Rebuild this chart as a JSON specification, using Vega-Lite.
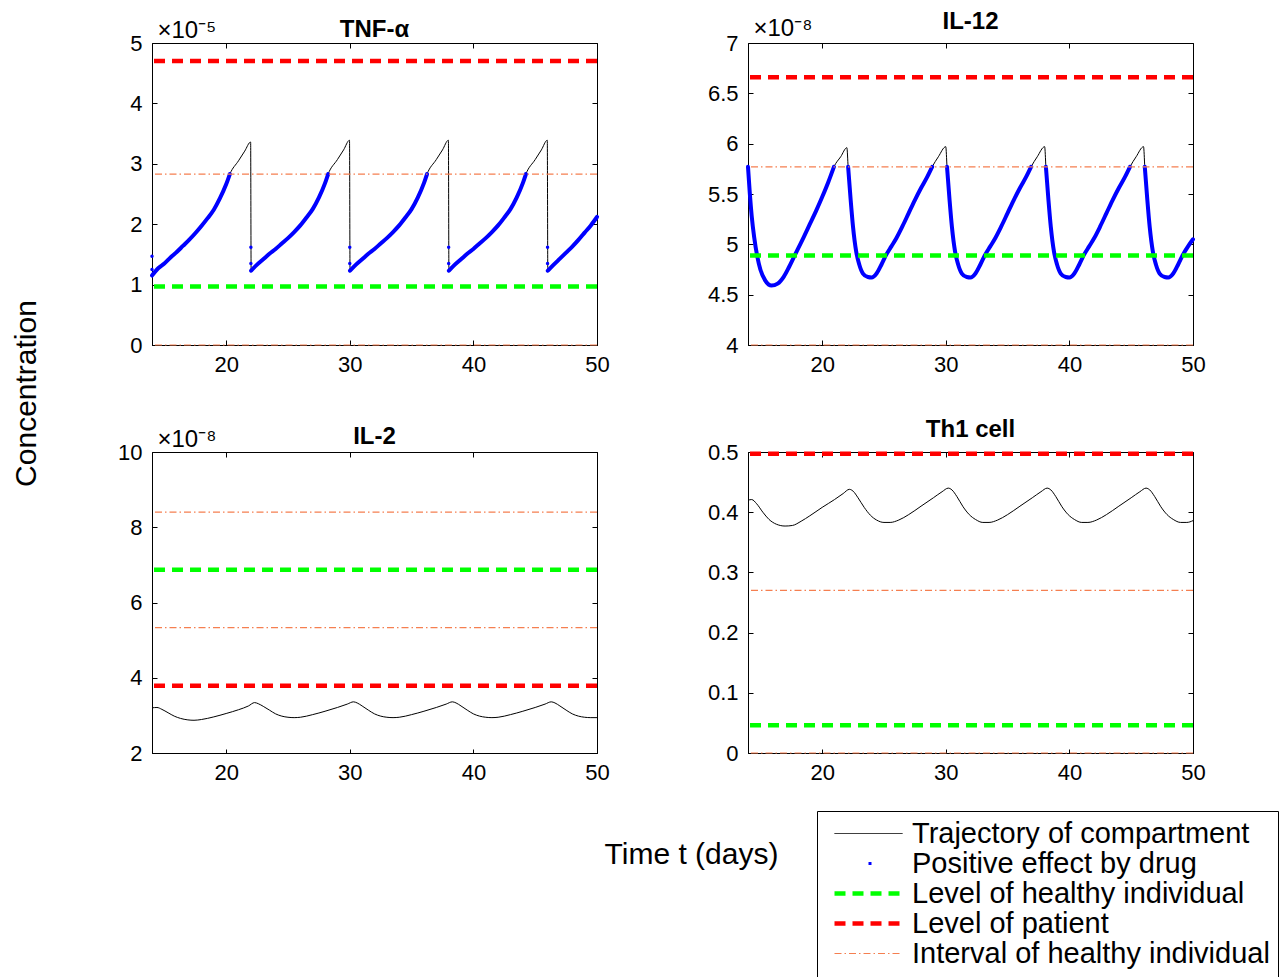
{
"$schema": "https://vega.github.io/schema/vega-lite/v6.json",
"autosize": {"type": "none"},
"padding": {"left": 152, "top": 43, "right": 1134, "bottom": 934},
"background": "white",
"datasets": {
"traj": [
{"p":"TNF","t":14,"v":1.15e-5,"s":1},{"p":"TNF","t":14.5,"v":1.27e-5,"s":1},{"p":"TNF","t":15,"v":1.35e-5,"s":1},{"p":"TNF","t":15.5,"v":1.45e-5,"s":1},{"p":"TNF","t":16,"v":1.54e-5,"s":1},{"p":"TNF","t":16.5,"v":1.64e-5,"s":1},{"p":"TNF","t":17,"v":1.74e-5,"s":1},{"p":"TNF","t":17.5,"v":1.85e-5,"s":1},{"p":"TNF","t":18,"v":1.97e-5,"s":1},{"p":"TNF","t":18.5,"v":2.1e-5,"s":1},{"p":"TNF","t":19,"v":2.24e-5,"s":1},{"p":"TNF","t":19.5,"v":2.43e-5,"s":1},{"p":"TNF","t":20,"v":2.66e-5,"s":1},{"p":"TNF","t":20.3,"v":2.83e-5,"s":1},{"p":"TNF","t":21,"v":3.05e-5},{"p":"TNF","t":21.5,"v":3.21e-5},{"p":"TNF","t":21.98,"v":3.36e-5},
{"p":"TNF","t":22.02,"v":1.23e-5,"s":2},{"p":"TNF","t":22.5,"v":1.33e-5,"s":2},{"p":"TNF","t":23,"v":1.42e-5,"s":2},{"p":"TNF","t":23.5,"v":1.51e-5,"s":2},{"p":"TNF","t":24,"v":1.59e-5,"s":2},{"p":"TNF","t":24.5,"v":1.68e-5,"s":2},{"p":"TNF","t":25,"v":1.77e-5,"s":2},{"p":"TNF","t":25.5,"v":1.87e-5,"s":2},{"p":"TNF","t":26,"v":1.98e-5,"s":2},{"p":"TNF","t":26.5,"v":2.11e-5,"s":2},{"p":"TNF","t":27,"v":2.25e-5,"s":2},{"p":"TNF","t":27.5,"v":2.44e-5,"s":2},{"p":"TNF","t":28,"v":2.68e-5,"s":2},{"p":"TNF","t":28.25,"v":2.83e-5,"s":2},{"p":"TNF","t":29,"v":3.07e-5},{"p":"TNF","t":29.5,"v":3.23e-5},{"p":"TNF","t":29.98,"v":3.39e-5},
{"p":"TNF","t":30.02,"v":1.23e-5,"s":3},{"p":"TNF","t":30.5,"v":1.33e-5,"s":3},{"p":"TNF","t":31,"v":1.42e-5,"s":3},{"p":"TNF","t":31.5,"v":1.51e-5,"s":3},{"p":"TNF","t":32,"v":1.59e-5,"s":3},{"p":"TNF","t":32.5,"v":1.68e-5,"s":3},{"p":"TNF","t":33,"v":1.77e-5,"s":3},{"p":"TNF","t":33.5,"v":1.87e-5,"s":3},{"p":"TNF","t":34,"v":1.98e-5,"s":3},{"p":"TNF","t":34.5,"v":2.11e-5,"s":3},{"p":"TNF","t":35,"v":2.25e-5,"s":3},{"p":"TNF","t":35.5,"v":2.44e-5,"s":3},{"p":"TNF","t":36,"v":2.68e-5,"s":3},{"p":"TNF","t":36.25,"v":2.83e-5,"s":3},{"p":"TNF","t":37,"v":3.07e-5},{"p":"TNF","t":37.5,"v":3.23e-5},{"p":"TNF","t":37.98,"v":3.39e-5},
{"p":"TNF","t":38.02,"v":1.23e-5,"s":4},{"p":"TNF","t":38.5,"v":1.33e-5,"s":4},{"p":"TNF","t":39,"v":1.42e-5,"s":4},{"p":"TNF","t":39.5,"v":1.51e-5,"s":4},{"p":"TNF","t":40,"v":1.59e-5,"s":4},{"p":"TNF","t":40.5,"v":1.68e-5,"s":4},{"p":"TNF","t":41,"v":1.77e-5,"s":4},{"p":"TNF","t":41.5,"v":1.87e-5,"s":4},{"p":"TNF","t":42,"v":1.98e-5,"s":4},{"p":"TNF","t":42.5,"v":2.11e-5,"s":4},{"p":"TNF","t":43,"v":2.25e-5,"s":4},{"p":"TNF","t":43.5,"v":2.44e-5,"s":4},{"p":"TNF","t":44,"v":2.68e-5,"s":4},{"p":"TNF","t":44.25,"v":2.83e-5,"s":4},{"p":"TNF","t":45,"v":3.07e-5},{"p":"TNF","t":45.5,"v":3.23e-5},{"p":"TNF","t":45.98,"v":3.39e-5},
{"p":"TNF","t":46.02,"v":1.23e-5,"s":5},{"p":"TNF","t":46.5,"v":1.33e-5,"s":5},{"p":"TNF","t":47,"v":1.43e-5,"s":5},{"p":"TNF","t":47.5,"v":1.53e-5,"s":5},{"p":"TNF","t":48,"v":1.63e-5,"s":5},{"p":"TNF","t":48.5,"v":1.74e-5,"s":5},{"p":"TNF","t":49,"v":1.86e-5,"s":5},{"p":"TNF","t":49.5,"v":1.98e-5,"s":5},{"p":"TNF","t":50,"v":2.12e-5,"s":5},
{"p":"IL12","t":14,"v":5.77e-8,"s":1},{"p":"IL12","t":14.15,"v":5.5e-8,"s":1},{"p":"IL12","t":14.3,"v":5.28e-8,"s":1},{"p":"IL12","t":14.5,"v":5.07e-8,"s":1},{"p":"IL12","t":14.75,"v":4.88e-8,"s":1},{"p":"IL12","t":15,"v":4.75e-8,"s":1},{"p":"IL12","t":15.4,"v":4.64e-8,"s":1},{"p":"IL12","t":15.9,"v":4.59e-8,"s":1},{"p":"IL12","t":16.4,"v":4.61e-8,"s":1},{"p":"IL12","t":16.9,"v":4.68e-8,"s":1},{"p":"IL12","t":17.3,"v":4.77e-8,"s":1},{"p":"IL12","t":17.7,"v":4.87e-8,"s":1},{"p":"IL12","t":18.1,"v":4.97e-8,"s":1},{"p":"IL12","t":18.5,"v":5.07e-8,"s":1},{"p":"IL12","t":19,"v":5.2e-8,"s":1},{"p":"IL12","t":19.5,"v":5.33e-8,"s":1},{"p":"IL12","t":20,"v":5.47e-8,"s":1},{"p":"IL12","t":20.5,"v":5.62e-8,"s":1},{"p":"IL12","t":20.95,"v":5.77e-8,"s":1},{"p":"IL12","t":21.5,"v":5.87e-8},{"p":"IL12","t":22,"v":5.96e-8},
{"p":"IL12","t":22.1,"v":5.77e-8,"s":2},{"p":"IL12","t":22.3,"v":5.45e-8,"s":2},{"p":"IL12","t":22.5,"v":5.17e-8,"s":2},{"p":"IL12","t":22.75,"v":4.93e-8,"s":2},{"p":"IL12","t":23,"v":4.8e-8,"s":2},{"p":"IL12","t":23.3,"v":4.71e-8,"s":2},{"p":"IL12","t":23.7,"v":4.675e-8,"s":2},{"p":"IL12","t":24,"v":4.67e-8,"s":2},{"p":"IL12","t":24.4,"v":4.71e-8,"s":2},{"p":"IL12","t":24.8,"v":4.8e-8,"s":2},{"p":"IL12","t":25.2,"v":4.9e-8,"s":2},{"p":"IL12","t":25.6,"v":4.98e-8,"s":2},{"p":"IL12","t":26,"v":5.06e-8,"s":2},{"p":"IL12","t":26.5,"v":5.18e-8,"s":2},{"p":"IL12","t":27,"v":5.31e-8,"s":2},{"p":"IL12","t":27.5,"v":5.44e-8,"s":2},{"p":"IL12","t":28,"v":5.56e-8,"s":2},{"p":"IL12","t":28.5,"v":5.67e-8,"s":2},{"p":"IL12","t":28.9,"v":5.77e-8,"s":2},{"p":"IL12","t":29.4,"v":5.87e-8},{"p":"IL12","t":30,"v":5.97e-8},
{"p":"IL12","t":30.1,"v":5.77e-8,"s":3},{"p":"IL12","t":30.3,"v":5.45e-8,"s":3},{"p":"IL12","t":30.5,"v":5.17e-8,"s":3},{"p":"IL12","t":30.75,"v":4.93e-8,"s":3},{"p":"IL12","t":31,"v":4.8e-8,"s":3},{"p":"IL12","t":31.3,"v":4.71e-8,"s":3},{"p":"IL12","t":31.7,"v":4.675e-8,"s":3},{"p":"IL12","t":32,"v":4.67e-8,"s":3},{"p":"IL12","t":32.4,"v":4.71e-8,"s":3},{"p":"IL12","t":32.8,"v":4.8e-8,"s":3},{"p":"IL12","t":33.2,"v":4.9e-8,"s":3},{"p":"IL12","t":33.6,"v":4.98e-8,"s":3},{"p":"IL12","t":34,"v":5.06e-8,"s":3},{"p":"IL12","t":34.5,"v":5.18e-8,"s":3},{"p":"IL12","t":35,"v":5.31e-8,"s":3},{"p":"IL12","t":35.5,"v":5.44e-8,"s":3},{"p":"IL12","t":36,"v":5.56e-8,"s":3},{"p":"IL12","t":36.5,"v":5.67e-8,"s":3},{"p":"IL12","t":36.9,"v":5.77e-8,"s":3},{"p":"IL12","t":37.4,"v":5.87e-8},{"p":"IL12","t":38,"v":5.97e-8},
{"p":"IL12","t":38.1,"v":5.77e-8,"s":4},{"p":"IL12","t":38.3,"v":5.45e-8,"s":4},{"p":"IL12","t":38.5,"v":5.17e-8,"s":4},{"p":"IL12","t":38.75,"v":4.93e-8,"s":4},{"p":"IL12","t":39,"v":4.8e-8,"s":4},{"p":"IL12","t":39.3,"v":4.71e-8,"s":4},{"p":"IL12","t":39.7,"v":4.675e-8,"s":4},{"p":"IL12","t":40,"v":4.67e-8,"s":4},{"p":"IL12","t":40.4,"v":4.71e-8,"s":4},{"p":"IL12","t":40.8,"v":4.8e-8,"s":4},{"p":"IL12","t":41.2,"v":4.9e-8,"s":4},{"p":"IL12","t":41.6,"v":4.98e-8,"s":4},{"p":"IL12","t":42,"v":5.06e-8,"s":4},{"p":"IL12","t":42.5,"v":5.18e-8,"s":4},{"p":"IL12","t":43,"v":5.31e-8,"s":4},{"p":"IL12","t":43.5,"v":5.44e-8,"s":4},{"p":"IL12","t":44,"v":5.56e-8,"s":4},{"p":"IL12","t":44.5,"v":5.67e-8,"s":4},{"p":"IL12","t":44.9,"v":5.77e-8,"s":4},{"p":"IL12","t":45.4,"v":5.87e-8},{"p":"IL12","t":46,"v":5.97e-8},
{"p":"IL12","t":46.1,"v":5.77e-8,"s":5},{"p":"IL12","t":46.3,"v":5.45e-8,"s":5},{"p":"IL12","t":46.5,"v":5.17e-8,"s":5},{"p":"IL12","t":46.75,"v":4.93e-8,"s":5},{"p":"IL12","t":47,"v":4.8e-8,"s":5},{"p":"IL12","t":47.3,"v":4.71e-8,"s":5},{"p":"IL12","t":47.7,"v":4.675e-8,"s":5},{"p":"IL12","t":48,"v":4.67e-8,"s":5},{"p":"IL12","t":48.4,"v":4.71e-8,"s":5},{"p":"IL12","t":48.8,"v":4.8e-8,"s":5},{"p":"IL12","t":49.2,"v":4.9e-8,"s":5},{"p":"IL12","t":49.6,"v":4.98e-8,"s":5},{"p":"IL12","t":50,"v":5.05e-8,"s":5},
{"p":"IL2","t":14,"v":3.2e-8},{"p":"IL2","t":14.4,"v":3.21e-8},{"p":"IL2","t":14.8,"v":3.16e-8},{"p":"IL2","t":15.3,"v":3.07e-8},{"p":"IL2","t":15.8,"v":2.98e-8},{"p":"IL2","t":16.3,"v":2.92e-8},{"p":"IL2","t":16.9,"v":2.88e-8},{"p":"IL2","t":17.4,"v":2.87e-8},{"p":"IL2","t":18,"v":2.89e-8},{"p":"IL2","t":19,"v":2.96e-8},{"p":"IL2","t":20,"v":3.05e-8},{"p":"IL2","t":21,"v":3.15e-8},{"p":"IL2","t":21.8,"v":3.25e-8},{"p":"IL2","t":22.3,"v":3.34e-8},
{"p":"IL2","t":22.6,"v":3.31e-8},{"p":"IL2","t":23,"v":3.24e-8},{"p":"IL2","t":23.5,"v":3.14e-8},{"p":"IL2","t":24,"v":3.04e-8},{"p":"IL2","t":24.5,"v":2.98e-8},{"p":"IL2","t":25,"v":2.95e-8},{"p":"IL2","t":25.5,"v":2.94e-8},{"p":"IL2","t":26,"v":2.95e-8},{"p":"IL2","t":27,"v":3.02e-8},{"p":"IL2","t":28,"v":3.11e-8},{"p":"IL2","t":29,"v":3.21e-8},{"p":"IL2","t":29.8,"v":3.3e-8},{"p":"IL2","t":30.3,"v":3.36e-8},
{"p":"IL2","t":30.6,"v":3.33e-8},{"p":"IL2","t":31,"v":3.25e-8},{"p":"IL2","t":31.5,"v":3.14e-8},{"p":"IL2","t":32,"v":3.04e-8},{"p":"IL2","t":32.5,"v":2.98e-8},{"p":"IL2","t":33,"v":2.95e-8},{"p":"IL2","t":33.5,"v":2.94e-8},{"p":"IL2","t":34,"v":2.95e-8},{"p":"IL2","t":35,"v":3.02e-8},{"p":"IL2","t":36,"v":3.11e-8},{"p":"IL2","t":37,"v":3.21e-8},{"p":"IL2","t":37.8,"v":3.3e-8},{"p":"IL2","t":38.3,"v":3.36e-8},
{"p":"IL2","t":38.6,"v":3.33e-8},{"p":"IL2","t":39,"v":3.25e-8},{"p":"IL2","t":39.5,"v":3.14e-8},{"p":"IL2","t":40,"v":3.04e-8},{"p":"IL2","t":40.5,"v":2.98e-8},{"p":"IL2","t":41,"v":2.95e-8},{"p":"IL2","t":41.5,"v":2.94e-8},{"p":"IL2","t":42,"v":2.95e-8},{"p":"IL2","t":43,"v":3.02e-8},{"p":"IL2","t":44,"v":3.11e-8},{"p":"IL2","t":45,"v":3.21e-8},{"p":"IL2","t":45.8,"v":3.3e-8},{"p":"IL2","t":46.3,"v":3.36e-8},
{"p":"IL2","t":46.6,"v":3.33e-8},{"p":"IL2","t":47,"v":3.25e-8},{"p":"IL2","t":47.5,"v":3.14e-8},{"p":"IL2","t":48,"v":3.04e-8},{"p":"IL2","t":48.5,"v":2.98e-8},{"p":"IL2","t":49,"v":2.95e-8},{"p":"IL2","t":49.5,"v":2.94e-8},{"p":"IL2","t":50,"v":2.94e-8},
{"p":"Th1","t":14,"v":0.42},{"p":"Th1","t":14.3,"v":0.421},{"p":"Th1","t":14.7,"v":0.414},{"p":"Th1","t":15.2,"v":0.4},{"p":"Th1","t":15.7,"v":0.388},{"p":"Th1","t":16.3,"v":0.38},{"p":"Th1","t":17,"v":0.377},{"p":"Th1","t":17.6,"v":0.378},{"p":"Th1","t":18.3,"v":0.385},{"p":"Th1","t":19,"v":0.394},{"p":"Th1","t":20,"v":0.408},{"p":"Th1","t":21,"v":0.421},{"p":"Th1","t":21.7,"v":0.431},{"p":"Th1","t":22.2,"v":0.438},
{"p":"Th1","t":22.5,"v":0.435},{"p":"Th1","t":22.9,"v":0.424},{"p":"Th1","t":23.4,"v":0.408},{"p":"Th1","t":23.9,"v":0.395},{"p":"Th1","t":24.4,"v":0.387},{"p":"Th1","t":25,"v":0.383},{"p":"Th1","t":25.5,"v":0.383},{"p":"Th1","t":26.2,"v":0.387},{"p":"Th1","t":27,"v":0.396},{"p":"Th1","t":28,"v":0.41},{"p":"Th1","t":29,"v":0.424},{"p":"Th1","t":29.7,"v":0.434},{"p":"Th1","t":30.2,"v":0.44},
{"p":"Th1","t":30.5,"v":0.437},{"p":"Th1","t":30.9,"v":0.426},{"p":"Th1","t":31.4,"v":0.409},{"p":"Th1","t":31.9,"v":0.396},{"p":"Th1","t":32.4,"v":0.388},{"p":"Th1","t":33,"v":0.383},{"p":"Th1","t":33.5,"v":0.383},{"p":"Th1","t":34.2,"v":0.387},{"p":"Th1","t":35,"v":0.396},{"p":"Th1","t":36,"v":0.41},{"p":"Th1","t":37,"v":0.424},{"p":"Th1","t":37.7,"v":0.434},{"p":"Th1","t":38.2,"v":0.44},
{"p":"Th1","t":38.5,"v":0.437},{"p":"Th1","t":38.9,"v":0.426},{"p":"Th1","t":39.4,"v":0.409},{"p":"Th1","t":39.9,"v":0.396},{"p":"Th1","t":40.4,"v":0.388},{"p":"Th1","t":41,"v":0.383},{"p":"Th1","t":41.5,"v":0.383},{"p":"Th1","t":42.2,"v":0.387},{"p":"Th1","t":43,"v":0.396},{"p":"Th1","t":44,"v":0.41},{"p":"Th1","t":45,"v":0.424},{"p":"Th1","t":45.7,"v":0.434},{"p":"Th1","t":46.2,"v":0.44},
{"p":"Th1","t":46.5,"v":0.437},{"p":"Th1","t":46.9,"v":0.426},{"p":"Th1","t":47.4,"v":0.409},{"p":"Th1","t":47.9,"v":0.396},{"p":"Th1","t":48.4,"v":0.388},{"p":"Th1","t":49,"v":0.383},{"p":"Th1","t":49.5,"v":0.383},{"p":"Th1","t":50,"v":0.386}
],
"dots": [
{"p":"TNF","t":14,"v":1.47e-5},{"p":"TNF","t":14,"v":1.25e-5},
{"p":"TNF","t":22,"v":1.62e-5},{"p":"TNF","t":22,"v":1.35e-5},
{"p":"TNF","t":30,"v":1.62e-5},{"p":"TNF","t":30,"v":1.35e-5},
{"p":"TNF","t":38,"v":1.62e-5},{"p":"TNF","t":38,"v":1.35e-5},
{"p":"TNF","t":46,"v":1.62e-5},{"p":"TNF","t":46,"v":1.35e-5}
],
"refs": [
{"p":"TNF","series":"Level of patient","v":4.7e-5},{"p":"TNF","series":"Level of healthy individual","v":0.97e-5},{"p":"TNF","series":"Interval of healthy individual","v":2.83e-5},{"p":"TNF","series":"Interval of healthy individual","v":0},
{"p":"IL12","series":"Level of patient","v":6.66e-8},{"p":"IL12","series":"Level of healthy individual","v":4.89e-8},{"p":"IL12","series":"Interval of healthy individual","v":5.77e-8},{"p":"IL12","series":"Interval of healthy individual","v":4.0e-8},
{"p":"IL2","series":"Level of patient","v":3.79e-8},{"p":"IL2","series":"Level of healthy individual","v":6.87e-8},{"p":"IL2","series":"Interval of healthy individual","v":8.4e-8},{"p":"IL2","series":"Interval of healthy individual","v":5.33e-8},
{"p":"Th1","series":"Level of patient","v":0.497},{"p":"Th1","series":"Level of healthy individual","v":0.046},{"p":"Th1","series":"Interval of healthy individual","v":0.27},{"p":"Th1","series":"Interval of healthy individual","v":0}
]
},
"columns": 2,
"bounds": "flush",
"spacing": {"row": 107, "column": 151},
"concat": [
{
"title": {"text": "TNF-α", "dy": 28},
"width": 445, "height": 302,
"layer": [
{"data": {"name": "traj"}, "transform": [{"filter": "datum.p === 'TNF'"}],
 "mark": {"type": "line", "color": "#000000", "strokeWidth": 1, "interpolate": "monotone"},
 "encoding": {
  "x": {"field": "t", "type": "quantitative", "scale": {"domain": [14, 50], "nice": false, "zero": false}, "axis": {"values": [20, 30, 40, 50], "title": "Concentration", "titleAngle": 270, "titleX": -117, "titleY": 48, "titleAlign": "center", "titleBaseline": "alphabetic", "titleFontSize": 30}},
  "y": {"field": "v", "type": "quantitative", "scale": {"domain": [0, 5e-5], "nice": false, "zero": false}, "axis": {"values": [0, 1e-5, 2e-5, 3e-5, 4e-5, 5e-5], "labelExpr": "format(datum.value*1e5, '~g')", "title": "×10⁻⁵", "titleX": 5, "titleY": -6}}
 }},
{"data": {"name": "traj"}, "transform": [{"filter": "datum.p === 'TNF' && datum.s != null"}],
 "mark": {"type": "line", "color": "#0000ff", "strokeWidth": 4, "strokeCap": "round", "interpolate": "monotone"},
 "encoding": {
  "x": {"field": "t", "type": "quantitative", "scale": {"domain": [14, 50], "nice": false, "zero": false}, "axis": {"values": [20, 30, 40, 50], "title": "Concentration", "titleAngle": 270, "titleX": -117, "titleY": 48, "titleAlign": "center", "titleBaseline": "alphabetic", "titleFontSize": 30}},
  "y": {"field": "v", "type": "quantitative", "scale": {"domain": [0, 5e-5], "nice": false, "zero": false}, "axis": {"values": [0, 1e-5, 2e-5, 3e-5, 4e-5, 5e-5], "labelExpr": "format(datum.value*1e5, '~g')", "title": "×10⁻⁵", "titleX": 5, "titleY": -6}},
  "detail": {"field": "s", "type": "nominal"}
 }},
{"data": {"name": "dots"}, "transform": [{"filter": "datum.p === 'TNF'"}],
 "mark": {"type": "point", "filled": true, "color": "#0000ff", "size": 12, "opacity": 1},
 "encoding": {
  "x": {"field": "t", "type": "quantitative", "scale": {"domain": [14, 50], "nice": false, "zero": false}, "axis": {"values": [20, 30, 40, 50], "title": "Concentration", "titleAngle": 270, "titleX": -117, "titleY": 48, "titleAlign": "center", "titleBaseline": "alphabetic", "titleFontSize": 30}},
  "y": {"field": "v", "type": "quantitative", "scale": {"domain": [0, 5e-5], "nice": false, "zero": false}, "axis": {"values": [0, 1e-5, 2e-5, 3e-5, 4e-5, 5e-5], "labelExpr": "format(datum.value*1e5, '~g')", "title": "×10⁻⁵", "titleX": 5, "titleY": -6}}
 }},
{"data": {"name": "refs"}, "transform": [{"filter": "datum.p === 'TNF'"}],
 "mark": {"type": "rule"},
 "encoding": {
  "y": {"field": "v", "type": "quantitative", "scale": {"domain": [0, 5e-5], "nice": false, "zero": false}, "axis": {"values": [0, 1e-5, 2e-5, 3e-5, 4e-5, 5e-5], "labelExpr": "format(datum.value*1e5, '~g')", "title": "×10⁻⁵", "titleX": 5, "titleY": -6}},
  "color": {"field": "series", "type": "nominal", "scale": {"domain": ["Trajectory of compartment", "Positive effect by drug", "Level of healthy individual", "Level of patient", "Interval of healthy individual"], "range": ["#000000", "#0000ff", "#00ff00", "#ff0000", "#f57f50"]}, "legend": {"title": null, "orient": "none", "legendX": 665, "legendY": 768}},
  "strokeDash": {"field": "series", "type": "nominal", "scale": {"domain": ["Trajectory of compartment", "Positive effect by drug", "Level of healthy individual", "Level of patient", "Interval of healthy individual"], "range": [[1, 0], [0, 34, 3, 100], [11, 7], [11, 7], [7, 3, 1.5, 3]]}, "legend": {"title": null, "orient": "none", "legendX": 665, "legendY": 768}},
  "strokeWidth": {"field": "series", "type": "nominal", "scale": {"type": "ordinal", "domain": ["Trajectory of compartment", "Positive effect by drug", "Level of healthy individual", "Level of patient", "Interval of healthy individual"], "range": [1, 3, 4.5, 4.5, 1.2]}, "legend": {"title": null, "orient": "none", "legendX": 665, "legendY": 768}}
 }}
]
},
{
"title": {"text": "IL-12", "dy": 22},
"width": 445, "height": 302,
"layer": [
{"data": {"name": "traj"}, "transform": [{"filter": "datum.p === 'IL12'"}],
 "mark": {"type": "line", "color": "#000000", "strokeWidth": 1, "interpolate": "monotone"},
 "encoding": {
  "x": {"field": "t", "type": "quantitative", "scale": {"domain": [14, 50], "nice": false, "zero": false}, "axis": {"values": [20, 30, 40, 50], "title": null}},
  "y": {"field": "v", "type": "quantitative", "scale": {"domain": [4e-8, 7e-8], "nice": false, "zero": false}, "axis": {"values": [4e-8, 4.5e-8, 5e-8, 5.5e-8, 6e-8, 6.5e-8, 7e-8], "labelExpr": "format(datum.value*1e8, '~g')", "title": "×10⁻⁸", "titleX": 5, "titleY": -8}}
 }},
{"data": {"name": "traj"}, "transform": [{"filter": "datum.p === 'IL12' && datum.s != null"}],
 "mark": {"type": "line", "color": "#0000ff", "strokeWidth": 4, "strokeCap": "round", "interpolate": "monotone"},
 "encoding": {
  "x": {"field": "t", "type": "quantitative", "scale": {"domain": [14, 50], "nice": false, "zero": false}, "axis": {"values": [20, 30, 40, 50], "title": null}},
  "y": {"field": "v", "type": "quantitative", "scale": {"domain": [4e-8, 7e-8], "nice": false, "zero": false}, "axis": {"values": [4e-8, 4.5e-8, 5e-8, 5.5e-8, 6e-8, 6.5e-8, 7e-8], "labelExpr": "format(datum.value*1e8, '~g')", "title": "×10⁻⁸", "titleX": 5, "titleY": -8}},
  "detail": {"field": "s", "type": "nominal"}
 }},
{"data": {"name": "refs"}, "transform": [{"filter": "datum.p === 'IL12'"}],
 "mark": {"type": "rule"},
 "encoding": {
  "y": {"field": "v", "type": "quantitative", "scale": {"domain": [4e-8, 7e-8], "nice": false, "zero": false}, "axis": {"values": [4e-8, 4.5e-8, 5e-8, 5.5e-8, 6e-8, 6.5e-8, 7e-8], "labelExpr": "format(datum.value*1e8, '~g')", "title": "×10⁻⁸", "titleX": 5, "titleY": -8}},
  "color": {"field": "series", "type": "nominal", "scale": {"domain": ["Trajectory of compartment", "Positive effect by drug", "Level of healthy individual", "Level of patient", "Interval of healthy individual"], "range": ["#000000", "#0000ff", "#00ff00", "#ff0000", "#f57f50"]}, "legend": {"title": null, "orient": "none", "legendX": 665, "legendY": 768}},
  "strokeDash": {"field": "series", "type": "nominal", "scale": {"domain": ["Trajectory of compartment", "Positive effect by drug", "Level of healthy individual", "Level of patient", "Interval of healthy individual"], "range": [[1, 0], [0, 34, 3, 100], [11, 7], [11, 7], [7, 3, 1.5, 3]]}, "legend": {"title": null, "orient": "none", "legendX": 665, "legendY": 768}},
  "strokeWidth": {"field": "series", "type": "nominal", "scale": {"type": "ordinal", "domain": ["Trajectory of compartment", "Positive effect by drug", "Level of healthy individual", "Level of patient", "Interval of healthy individual"], "range": [1, 3, 4.5, 4.5, 1.2]}, "legend": {"title": null, "orient": "none", "legendX": 665, "legendY": 768}}
 }}
]
},
{
"title": {"text": "IL-2", "dy": 26},
"width": 445, "height": 301,
"layer": [
{"data": {"name": "traj"}, "transform": [{"filter": "datum.p === 'IL2'"}],
 "mark": {"type": "line", "color": "#000000", "strokeWidth": 1, "interpolate": "monotone"},
 "encoding": {
  "x": {"field": "t", "type": "quantitative", "scale": {"domain": [14, 50], "nice": false, "zero": false}, "axis": {"values": [20, 30, 40, 50], "title": "Time t (days)", "titleX": 539, "titleY": 110, "titleAlign": "center", "titleBaseline": "alphabetic", "titleFontSize": 30}},
  "y": {"field": "v", "type": "quantitative", "scale": {"domain": [2e-8, 1e-7], "nice": false, "zero": false}, "axis": {"values": [2e-8, 4e-8, 6e-8, 8e-8, 1e-7], "labelExpr": "format(datum.value*1e8, '~g')", "title": "×10⁻⁸", "titleX": 5, "titleY": -6}}
 }},
{"data": {"name": "refs"}, "transform": [{"filter": "datum.p === 'IL2'"}],
 "mark": {"type": "rule"},
 "encoding": {
  "y": {"field": "v", "type": "quantitative", "scale": {"domain": [2e-8, 1e-7], "nice": false, "zero": false}, "axis": {"values": [2e-8, 4e-8, 6e-8, 8e-8, 1e-7], "labelExpr": "format(datum.value*1e8, '~g')", "title": "×10⁻⁸", "titleX": 5, "titleY": -6}},
  "color": {"field": "series", "type": "nominal", "scale": {"domain": ["Trajectory of compartment", "Positive effect by drug", "Level of healthy individual", "Level of patient", "Interval of healthy individual"], "range": ["#000000", "#0000ff", "#00ff00", "#ff0000", "#f57f50"]}, "legend": {"title": null, "orient": "none", "legendX": 665, "legendY": 768}},
  "strokeDash": {"field": "series", "type": "nominal", "scale": {"domain": ["Trajectory of compartment", "Positive effect by drug", "Level of healthy individual", "Level of patient", "Interval of healthy individual"], "range": [[1, 0], [0, 34, 3, 100], [11, 7], [11, 7], [7, 3, 1.5, 3]]}, "legend": {"title": null, "orient": "none", "legendX": 665, "legendY": 768}},
  "strokeWidth": {"field": "series", "type": "nominal", "scale": {"type": "ordinal", "domain": ["Trajectory of compartment", "Positive effect by drug", "Level of healthy individual", "Level of patient", "Interval of healthy individual"], "range": [1, 3, 4.5, 4.5, 1.2]}, "legend": {"title": null, "orient": "none", "legendX": 665, "legendY": 768}}
 }}
]
},
{
"title": {"text": "Th1 cell", "dy": 5},
"width": 445, "height": 301,
"layer": [
{"data": {"name": "traj"}, "transform": [{"filter": "datum.p === 'Th1'"}],
 "mark": {"type": "line", "color": "#000000", "strokeWidth": 1, "interpolate": "monotone"},
 "encoding": {
  "x": {"field": "t", "type": "quantitative", "scale": {"domain": [14, 50], "nice": false, "zero": false}, "axis": {"values": [20, 30, 40, 50], "title": null}},
  "y": {"field": "v", "type": "quantitative", "scale": {"domain": [0, 0.5], "nice": false, "zero": false}, "axis": {"values": [0, 0.1, 0.2, 0.3, 0.4, 0.5], "format": "~g", "title": null}}
 }},
{"data": {"name": "refs"}, "transform": [{"filter": "datum.p === 'Th1'"}],
 "mark": {"type": "rule"},
 "encoding": {
  "y": {"field": "v", "type": "quantitative", "scale": {"domain": [0, 0.5], "nice": false, "zero": false}, "axis": {"values": [0, 0.1, 0.2, 0.3, 0.4, 0.5], "format": "~g", "title": null}},
  "color": {"field": "series", "type": "nominal", "scale": {"domain": ["Trajectory of compartment", "Positive effect by drug", "Level of healthy individual", "Level of patient", "Interval of healthy individual"], "range": ["#000000", "#0000ff", "#00ff00", "#ff0000", "#f57f50"]}, "legend": {"title": null, "orient": "none", "legendX": 665, "legendY": 768}},
  "strokeDash": {"field": "series", "type": "nominal", "scale": {"domain": ["Trajectory of compartment", "Positive effect by drug", "Level of healthy individual", "Level of patient", "Interval of healthy individual"], "range": [[1, 0], [0, 34, 3, 100], [11, 7], [11, 7], [7, 3, 1.5, 3]]}, "legend": {"title": null, "orient": "none", "legendX": 665, "legendY": 768}},
  "strokeWidth": {"field": "series", "type": "nominal", "scale": {"type": "ordinal", "domain": ["Trajectory of compartment", "Positive effect by drug", "Level of healthy individual", "Level of patient", "Interval of healthy individual"], "range": [1, 3, 4.5, 4.5, 1.2]}, "legend": {"title": null, "orient": "none", "legendX": 665, "legendY": 768}}
 }}
]
}
],
"config": {
 "font": "Liberation Sans",
 "view": {"stroke": "#000000", "strokeWidth": 1},
 "axis": {"grid": true, "gridColor": "#000000", "gridOpacity": 1, "gridWidth": 1, "ticks": false, "labelFont": "Liberation Sans", "labelFontSize": 22, "labelColor": "#000000", "labelFlush": false, "labelOverlap": false, "domainColor": "#000000", "domainWidth": 1, "titleFont": "Liberation Sans", "titleColor": "#000000", "titleFontWeight": "normal", "titleFontSize": 24},
 "axisX": {"labelPadding": 9, "gridDash": [5, 292, 5, 0]},
 "axisY": {"labelPadding": 10, "gridDash": [5, 435, 5, 0], "titleAngle": 0, "titleAlign": "left", "titleBaseline": "alphabetic"},
 "title": {"font": "Liberation Sans", "fontSize": 24, "fontWeight": "bold", "color": "#000000", "anchor": "middle", "frame": "group", "baseline": "alphabetic", "offset": 0},
 "legend": {"labelFont": "Liberation Sans", "labelFontSize": 29, "labelColor": "#000000", "labelLimit": 600, "symbolType": "stroke", "symbolSize": 4624, "clipHeight": 29, "rowPadding": 0, "padding": 8, "symbolOffset": 7, "labelOffset": 7, "strokeColor": "#000000", "fillColor": "#ffffff", "cornerRadius": 0}
}
}
